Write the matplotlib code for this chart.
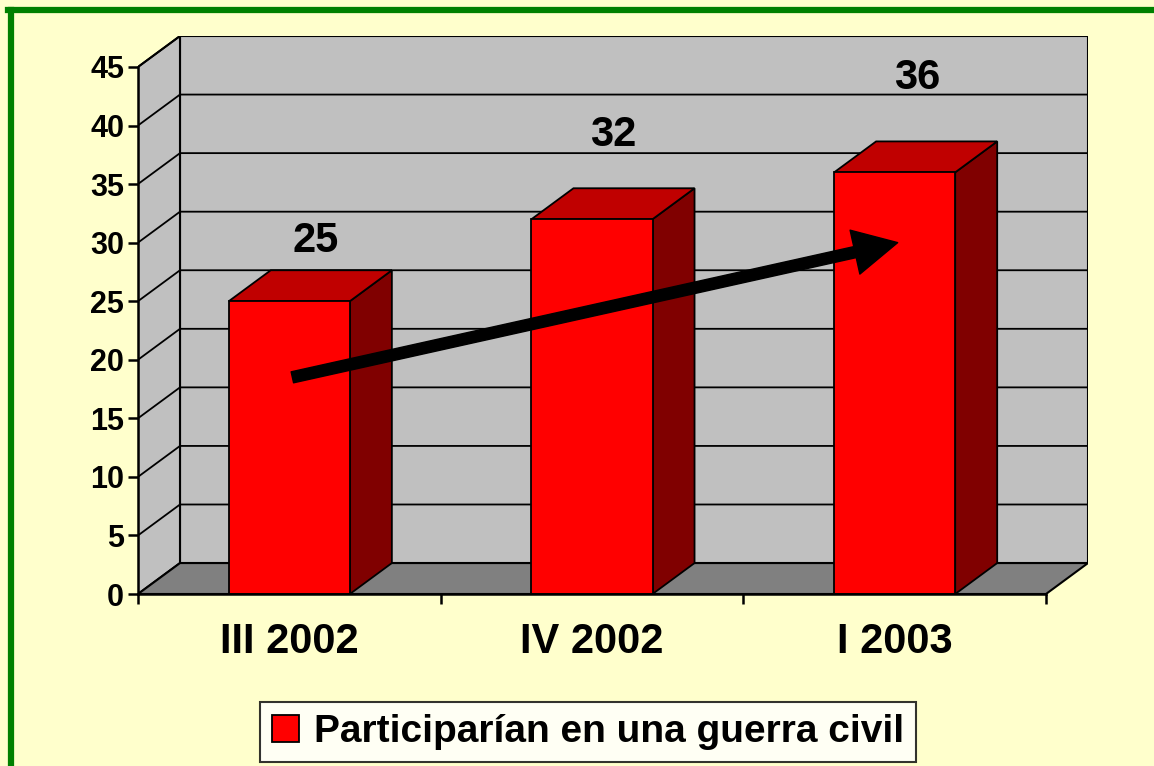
import matplotlib
matplotlib.use('Agg')
import matplotlib.pyplot as plt
from matplotlib.patches import Polygon, Rectangle, Patch
from matplotlib.lines import Line2D

categories = ['III 2002', 'IV 2002', 'I 2003']
values = [25, 32, 36]
series_name = 'Participarían en una guerra civil'
yticks = list(range(0, 50, 5))

# arrow showing the trend (start / end in data units)
arrow_from = (0.01, 18.5)
arrow_to = (2.01, 30.0)

plt.rcParams['font.family'] = ['Liberation Sans', 'DejaVu Sans']
plt.rcParams['font.weight'] = 'bold'

W, H = 1154, 766
fig = plt.figure(figsize=(W / 100, H / 100), dpi=100)
fig.patch.set_facecolor('#FFFFCC')

# depth of the fake 3d box, in data units
DX = 42 / 302.67
DY = 31 / (528 / 45)
YMAX = 45
BW = 0.4

ax = fig.add_axes([138 / W, 172 / H, 950 / W, 558 / H])
ax.set_xlim(-0.5, len(categories) - 0.5 + DX)
ax.set_ylim(0, YMAX + DY)
ax.patch.set_visible(False)

x0, x1 = -0.5, len(categories) - 0.5
wall = '#C0C0C0'
# back wall
ax.add_patch(Rectangle((x0 + DX, DY), x1 - x0, YMAX, fc=wall, ec='black', lw=1.5, zorder=1))
# left wall
ax.add_patch(Polygon([(x0, 0), (x0 + DX, DY), (x0 + DX, YMAX + DY), (x0, YMAX)],
                     closed=True, fc=wall, ec='black', lw=1.5, zorder=1))
# floor
ax.add_patch(Polygon([(x0, 0), (x1, 0), (x1 + DX, DY), (x0 + DX, DY)],
                     closed=True, fc='#808080', ec='black', lw=1.5, zorder=1))
# gridlines
for t in yticks[1:]:
    ax.plot([x0, x0 + DX, x1 + DX], [t, t + DY, t + DY], color='black', lw=1.3, zorder=2)

# bars
for i, v in enumerate(values):
    l, r = i - BW / 2, i + BW / 2
    ax.add_patch(Polygon([(r, 0), (r + DX, DY), (r + DX, v + DY), (r, v)],
                         closed=True, fc='#800000', ec='black', lw=1.3, zorder=3))
    ax.add_patch(Polygon([(l, v), (r, v), (r + DX, v + DY), (l + DX, v + DY)],
                         closed=True, fc='#C00000', ec='black', lw=1.3, zorder=3))
    ax.add_patch(Rectangle((l, 0), BW, v, fc='#FF0000', ec='black', lw=1.3, zorder=4))

# value labels (Excel put them at uneven heights)
label_shift = [(4, 21), (0, 38.5), (1, 46)]
for i, v in enumerate(values):
    ax.annotate(str(v), xy=(i + DX / 2, v + DY), xytext=label_shift[i],
                textcoords='offset points', ha='center', va='center',
                fontsize=30, fontweight='bold', zorder=6)

# trend arrow
ax.annotate('', xy=arrow_to, xytext=arrow_from, zorder=7,
            arrowprops=dict(arrowstyle='simple,head_length=1.05,head_width=1.08,tail_width=0.27',
                            mutation_scale=30, fc='black', ec='black',
                            shrinkA=0, shrinkB=0))

# axes
for s in ['top', 'right']:
    ax.spines[s].set_visible(False)
ax.spines['left'].set_bounds(0, YMAX)
ax.spines['bottom'].set_bounds(x0, x1)
for s in ['left', 'bottom']:
    ax.spines[s].set_linewidth(1.8)
    ax.spines[s].set_zorder(5)
ax.set_yticks(yticks)
ax.set_yticklabels([str(t) for t in yticks], fontsize=22, fontweight='bold')
ax.tick_params(axis='y', length=7, width=1.8, pad=3)
ax.set_xticks(range(len(categories)))
ax.set_xticklabels(categories, fontsize=30, fontweight='bold')
ax.set_xticks([x0 + k for k in range(len(categories) + 1)], minor=True)
ax.tick_params(axis='x', which='major', length=0, pad=20)
ax.tick_params(axis='x', which='minor', length=7, width=1.8)

# legend
leg = fig.legend(handles=[Patch(fc='#FF0000', ec='black', lw=1.3)], labels=[series_name],
                 loc='center', bbox_to_anchor=(588 / W, 1 - 732 / H),
                 fontsize=28, frameon=True, fancybox=False, edgecolor='black',
                 handlelength=0.7, handleheight=0.7, handletextpad=0.4,
                 borderpad=0.3, borderaxespad=0)
leg.get_frame().set_linewidth(1.5)
leg.get_frame().set_facecolor('white')
for t in leg.get_texts():
    t.set_fontweight('bold')

# green frame (top and left edges visible)
fig.add_artist(Line2D([11 / W, 11 / W], [0, 1 - 10 / H], color='#008000', lw=4.5))
fig.add_artist(Line2D([8 / W, 1], [1 - 10 / H, 1 - 10 / H], color='#008000', lw=4.5))

fig.savefig('out.png', dpi=100, facecolor=fig.get_facecolor())
